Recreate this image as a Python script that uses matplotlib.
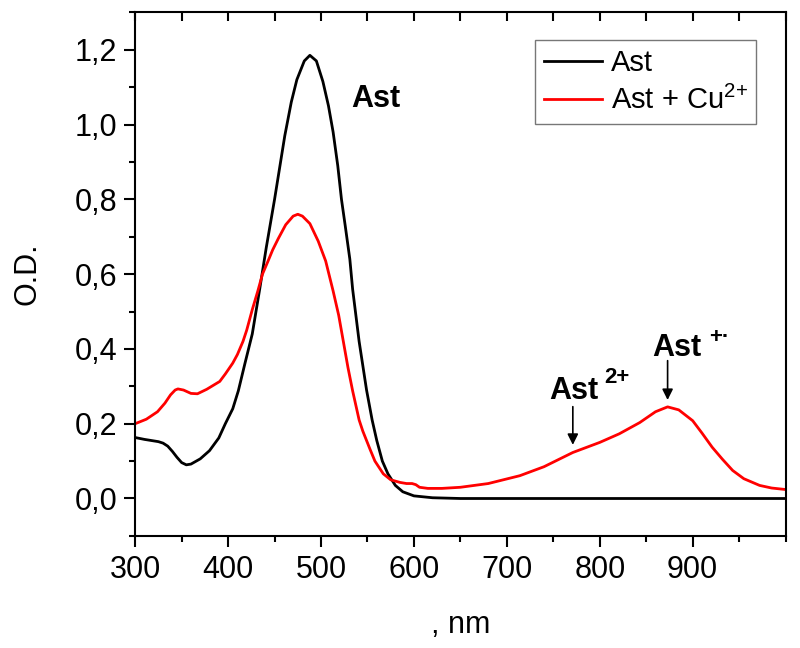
import matplotlib
matplotlib.use("Agg")
import matplotlib.pyplot as plt
from matplotlib.ticker import MultipleLocator, FuncFormatter

plt.rcParams['font.family'] = ['Liberation Sans', 'DejaVu Sans']
plt.rcParams['mathtext.fontset'] = 'custom'
plt.rcParams['mathtext.rm'] = 'Liberation Sans'
plt.rcParams['mathtext.it'] = 'Liberation Sans'
plt.rcParams['mathtext.bf'] = 'Liberation Sans:bold'

# Ast (black)
wl_ast = [300, 310, 320, 325, 330, 335, 340, 345, 350, 355, 360, 370, 380, 390,
          397, 405, 411, 418, 426, 434, 441, 450, 461, 468, 474, 482, 488, 495,
          502, 508, 513, 518, 522, 526, 531, 534, 541, 549, 555, 560, 566, 572,
          580, 588, 600, 620, 650, 700, 800, 900, 1000]
od_ast = [0.163, 0.158, 0.154, 0.152, 0.148, 0.140, 0.126, 0.110, 0.096, 0.090,
          0.092, 0.106, 0.128, 0.162, 0.200, 0.240, 0.288, 0.360, 0.440, 0.560,
          0.670, 0.800, 0.970, 1.060, 1.120, 1.170, 1.185, 1.170, 1.115, 1.050,
          0.980, 0.890, 0.800, 0.730, 0.640, 0.560, 0.420, 0.290, 0.210, 0.155,
          0.100, 0.066, 0.035, 0.018, 0.007, 0.002, 0.0, 0.0, 0.0, 0.0, 0.0]

# Ast + Cu2+ (red)
wl_cu = [300, 312, 324, 332, 338, 343, 346, 352, 360, 367, 377, 391, 397, 405,
         410, 416, 420, 426, 432, 437, 443, 448, 454, 462, 470, 475, 480, 488,
         497, 505, 513, 519, 524, 529, 534, 541, 545, 549, 553, 558, 567, 575,
         585, 592, 598, 602, 606, 615, 630, 650, 680, 714, 740, 771, 800, 821,
         843, 860, 873, 885, 900, 910, 921, 932, 943, 955, 972, 985, 1000]
od_cu = [0.200, 0.212, 0.232, 0.255, 0.277, 0.290, 0.293, 0.290, 0.281, 0.280,
         0.292, 0.313, 0.333, 0.362, 0.385, 0.420, 0.450, 0.505, 0.555, 0.600,
         0.635, 0.665, 0.695, 0.732, 0.755, 0.760, 0.755, 0.735, 0.688, 0.635,
         0.555, 0.490, 0.420, 0.350, 0.288, 0.210, 0.180, 0.155, 0.130, 0.100,
         0.066, 0.050, 0.043, 0.040, 0.040, 0.037, 0.030, 0.027, 0.027, 0.030,
         0.040, 0.061, 0.085, 0.123, 0.150, 0.173, 0.203, 0.232, 0.245, 0.237,
         0.208, 0.175, 0.137, 0.105, 0.075, 0.053, 0.035, 0.028, 0.024]

top_ticks = list(range(300, 1001, 50))

fig = plt.figure(figsize=(8, 6.48), dpi=100)
ax = fig.add_axes([0.169, 0.173, 0.813, 0.808])

ax.plot(wl_ast, od_ast, color='black', lw=2.0, label='Ast')
ax.plot(wl_cu, od_cu, color='#ff0000', lw=2.0, label='Ast + Cu$^{2{+}}$')

ax.set_xlim(300, 1000)
ax.set_ylim(-0.1, 1.3)
ax.set_xticks([300, 400, 500, 600, 700, 800, 900])
ax.xaxis.set_minor_locator(MultipleLocator(50))
ax.yaxis.set_major_locator(MultipleLocator(0.2))
ax.yaxis.set_minor_locator(MultipleLocator(0.1))
ax.yaxis.set_major_formatter(FuncFormatter(lambda v, p: f"{v:.1f}".replace('.', ',')))

for s in ax.spines.values():
    s.set_linewidth(1.5)
ax.tick_params(which='major', direction='out', length=8, width=1.5, labelsize=22,
               top=False, right=False)
ax.tick_params(axis='x', which='major', pad=6)
ax.tick_params(axis='y', which='major', pad=5)
ax.tick_params(which='minor', direction='out', length=4.5, width=1.5,
               top=False, right=False)

# short inward ticks hanging from the top frame
ax.vlines(top_ticks, 0.984, 1.0, transform=ax.get_xaxis_transform(),
          colors='black', lw=1.5, clip_on=False)

ax.set_ylabel('O.D.', fontsize=22, labelpad=23)
ax.set_xlabel(', nm', fontsize=22, labelpad=18)

leg = ax.legend(loc='upper right', bbox_to_anchor=(0.955, 0.947), borderaxespad=0,
                fontsize=21, frameon=True, fancybox=False, handlelength=2.0,
                handletextpad=0.3, borderpad=0.3, labelspacing=0.3)
leg.get_frame().set_edgecolor('#555555')
leg.get_frame().set_linewidth(1.0)

# annotations
ax.text(533, 1.048, 'Ast', fontsize=22, fontweight='bold', va='baseline')

ax.text(746, 0.267, 'Ast', fontsize=22, fontweight='bold', va='baseline')
ax.text(805, 0.309, '2+', fontsize=16, fontweight='bold', va='baseline')
ax.annotate('', xy=(771, 0.136), xytext=(771, 0.253),
            arrowprops=dict(arrowstyle='-|>', color='black', lw=1.2, mutation_scale=16))

ax.text(857, 0.381, 'Ast', fontsize=22, fontweight='bold', va='baseline')
ax.text(918, 0.416, '+\u00b7', fontsize=16, fontweight='bold', va='baseline')
ax.annotate('', xy=(873, 0.256), xytext=(873, 0.376),
            arrowprops=dict(arrowstyle='-|>', color='black', lw=1.2, mutation_scale=16))

fig.savefig('out.png', dpi=100)
